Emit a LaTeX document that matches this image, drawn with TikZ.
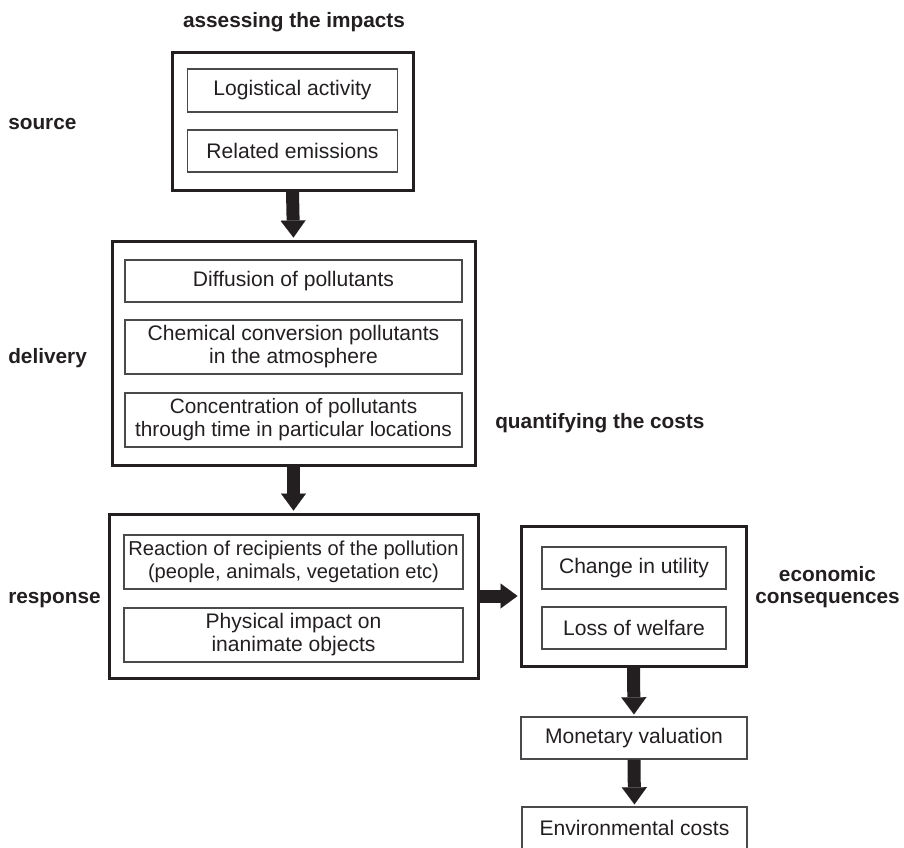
\documentclass[tikz,border=0pt]{standalone}
\usepackage{fontspec}
\setmainfont{Liberation Sans}
\usetikzlibrary{arrows.meta}
\definecolor{ink}{HTML}{231F20}
\definecolor{rule}{HTML}{4A4A4C}
\begin{document}
\begin{tikzpicture}[
  x=0.75pt, y=-0.75pt,
  dims/.style 2 args={minimum width=#1*0.75pt, minimum height=#2*0.75pt},
  outerbox/.style={draw=ink, line width=2.25pt, inner sep=0pt},
  innerbox/.style={draw=rule, line width=1pt, inner sep=0pt, align=center,
    text=ink, font=\fontsize{15.8}{17.25}\selectfont},
  % two-line boxes: a taller first line sets the text a little lower
  twoline/.style={execute at begin node={\rule{0pt}{15.5pt}}},
  stagelabel/.style={font=\fontsize{15.6}{16.5}\selectfont\bfseries,
    text=ink, inner sep=0pt},
  flow/.style={draw=ink, line width=9.75pt, shorten >=1.5pt,
    -{Triangle[length=12.75pt, width=18.75pt, line width=0.01pt]}}
]
\useasboundingbox (0,0) rectangle (904,847);
\clip (0,0) rectangle (904,847);

% source stage
\node[outerbox, dims={241}{138}] (src) at (292.5,121) {};
\node[innerbox, dims={210}{43}] (logi) at (292.5,90.5) {Logistical activity};
\node[innerbox, dims={210}{42}] (rel) at (292.5,151) {Related emissions};

% delivery stage
\node[outerbox, dims={363}{224}] (del) at (293.5,353) {};
\node[innerbox, dims={337}{42}] (diff) at (293.5,281) {Diffusion of pollutants};
\node[innerbox, twoline, dims={337}{54}] (chem) at (293.5,347)
  {Chemical conversion pollutants\\in the atmosphere};
\node[innerbox, twoline, dims={337}{54}, font=\fontsize{15.6}{17.25}\selectfont]
  (conc) at (293.5,420)
  {Concentration of pollutants\\through time in particular locations};

% response stage
\node[outerbox, dims={369}{164}] (resp) at (293.5,596) {};
\node[innerbox, twoline, dims={339}{54}, font=\fontsize{15.1}{17.25}\selectfont]
  (react) at (293.5,562)
  {Reaction of recipients of the pollution\\(people, animals, vegetation etc)};
\node[innerbox, twoline, dims={339}{54}] (phys) at (293.5,635)
  {Physical impact on\\inanimate objects};

% economic consequences
\node[outerbox, dims={225}{140}] (econ) at (633.5,596.5) {};
\node[innerbox, dims={184}{42}] (chg) at (634,568) {Change in utility};
\node[innerbox, dims={184}{42}] (loss) at (634,628) {Loss of welfare};

% valuation chain
\node[innerbox, dims={226}{42}] (mon) at (634,738) {Monetary valuation};
\node[innerbox, dims={225}{42}] (envc) at (634.5,828) {Environmental costs};

% stage labels
\node[stagelabel, anchor=base] (limp) at (294,27) {assessing the impacts};
\node[stagelabel, anchor=base west] (lsrc) at (8,129) {source};
\node[stagelabel, anchor=base west] (ldel) at (8,363) {delivery};
\node[stagelabel, anchor=base west] (lresp) at (8,603) {response};
\node[stagelabel, anchor=base west] (lqua) at (495,428) {quantifying the costs};
\node[stagelabel, align=center] (leco) at (827.5,587) {economic\\consequences};

% block arrows
\draw[flow] (src.south) -- (del.north);
\draw[flow] (del.south) -- (resp.north);
\draw[flow] (resp.east) -- (resp.east -| econ.west);
\draw[flow] (econ.south) -- (mon.north);
\draw[flow] (mon.south) -- (envc.north);
\end{tikzpicture}
\end{document}
